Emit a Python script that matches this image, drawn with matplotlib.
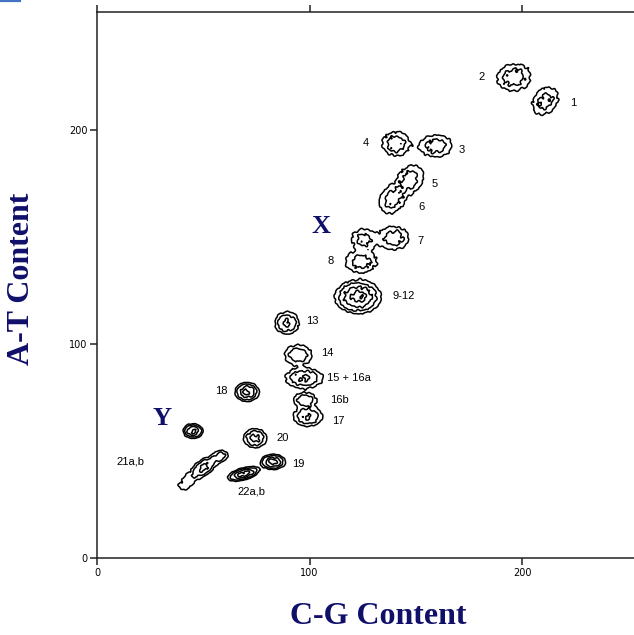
import numpy as np
import matplotlib.pyplot as plt
from matplotlib.lines import Line2D

# chromosome clusters: C-G content (x), A-T content (y)
names = ['1', '2', '3', '4', '5', '6', '7', 'X', '8', '9-12', '13', '14', '15+16a',
         '16b', '17', '18', 'Y', '20', '19', '22a', '21a', '21b', '21c']
cg = [211.0, 196.2, 159.5, 140.7, 147.5, 139.0, 139.8, 125.5, 124.2, 122.8, 89.4, 94.6, 97.5,
      98.0, 99.3, 70.6, 45.2, 74.4, 82.8, 69.0, 58.0, 50.5, 42.5]
at = [213.5, 224.5, 192.5, 193.5, 177.0, 167.5, 149.5, 149.0, 138.3, 122.0, 109.8, 94.9, 84.0,
      73.8, 66.0, 77.6, 59.3, 56.0, 44.9, 39.3, 47.5, 42.5, 35.5]
# cluster spread (sigma along/across) and tilt in degrees
sig_a = [5.0, 5.3, 5.1, 4.3, 4.8, 4.8, 4.7, 4.0, 5.0, 5.3, 3.3, 4.0, 5.2,
         3.4, 4.0, 2.8, 2.3, 3.0, 2.8, 3.7, 2.5, 3.5, 5.0]
sig_b = [3.9, 4.2, 3.4, 3.8, 3.8, 3.8, 3.6, 3.4, 3.3, 3.8, 3.0, 2.9, 2.7,
         2.1, 2.6, 2.2, 1.7, 2.5, 1.7, 1.35, 1.8, 2.0, 2.6]
tilt = [50, 10, 0, 0, 50, 50, 0, 0, 0, 0, 0, 0, 0,
        0, 0, 0, 0, 0, 0, 15, 20, 35, 45]
peak = [2.6, 3.0, 3.0, 3.0, 2.8, 2.8, 3.0, 2.6, 2.9, 8.5, 4.5, 3.5, 4.3,
        3.5, 4.3, 8.0, 8.0, 5.0, 9.0, 9.0, 3.0, 5.0, 1.6]
levels = [1.0, 2.0, 4.0, 7.0]

# text labels beside the clusters
lab_text = ['1', '2', '3', '4', '5', '6', '7', '8', '9-12', '13', '14', '15 + 16a',
            '16b', '17', '18', '20', '19', '21a,b', '22a,b']
lab_x = [224.0, 181.2, 171.8, 126.6, 159.0, 152.5, 152.0, 110.1, 144.5, 101.2, 108.2, 118.6,
         113.9, 113.4, 58.4, 87.5, 94.6, 15.5, 72.5]
lab_y = [212.6, 224.8, 190.7, 193.9, 174.8, 164.0, 148.1, 138.8, 122.4, 110.7, 95.8, 84.1,
         73.8, 64.0, 78.0, 56.1, 43.9, 45.3, 31.3]

navy = '#10106b'

gx, gy = np.meshgrid(np.arange(0, 256, 0.5), np.arange(0, 256, 0.5))
dens = np.zeros_like(gx)
for i in range(len(cg)):
    th = np.radians(tilt[i])
    dx = gx - cg[i]
    dy = gy - at[i]
    u = dx * np.cos(th) + dy * np.sin(th)
    v = -dx * np.sin(th) + dy * np.cos(th)
    dens += peak[i] * np.exp(-0.5 * ((u / sig_a[i]) ** 2 + (v / sig_b[i]) ** 2))

# ragged outlines like binned cytometer counts
rough = (np.sin(1.3 * gx + 0.8 * gy) * np.cos(1.1 * gy - 0.5 * gx)
         + 0.5 * np.sin(2.2 * gx - 1.7 * gy + 1.0)
         + 0.35 * np.cos(3.1 * gx + 2.6 * gy))
dens = dens * (1 + 0.16 * rough)

fig = plt.figure(figsize=(6.34, 6.35), dpi=100)
ax = fig.add_axes([97 / 634, 77 / 635, 1 - 97 / 634, 546 / 635])
ax.contour(gx, gy, dens, levels=levels, colors='black', linewidths=1.1)

ax.set_xlim(0, 252.7)
ax.set_ylim(0, 255.1)
ax.spines['right'].set_visible(False)
for s in ['left', 'bottom', 'top']:
    ax.spines[s].set_linewidth(1.1)
    ax.spines[s].set_color('#222222')
ax.set_xticks([0, 100, 200])
ax.set_yticks([0, 100, 200])
ax.tick_params(direction='out', length=5, width=1.1, labelsize=7, pad=2,
               top=True, labeltop=False, colors='#222222', labelcolor='black')

for t, x, y in zip(lab_text, lab_x, lab_y):
    ax.text(x, y, t, fontsize=8, ha='center', va='center', family='Liberation Sans')

ax.text(105.4, 154.7, 'X', fontsize=19, fontweight='bold', family='Liberation Serif',
        color=navy, ha='center', va='center')
ax.text(30.6, 65.0, 'Y', fontsize=19, fontweight='bold', family='Liberation Serif',
        color=navy, ha='center', va='center')

fig.text(378 / 634, 1 - 617 / 635, 'C-G Content', fontsize=23, fontweight='bold',
         family='Liberation Serif', color=navy, ha='center', va='center')
fig.text(22 / 634, 1 - 279 / 635, 'A-T Content', fontsize=23, fontweight='bold',
         family='Liberation Serif', color=navy, ha='center', va='center', rotation=90)

fig.add_artist(Line2D([0, 20 / 634], [1 - 0.8 / 635, 1 - 0.8 / 635], color='#4472c4',
                      lw=1.6, transform=fig.transFigure))

fig.savefig('out.png', dpi=100)
